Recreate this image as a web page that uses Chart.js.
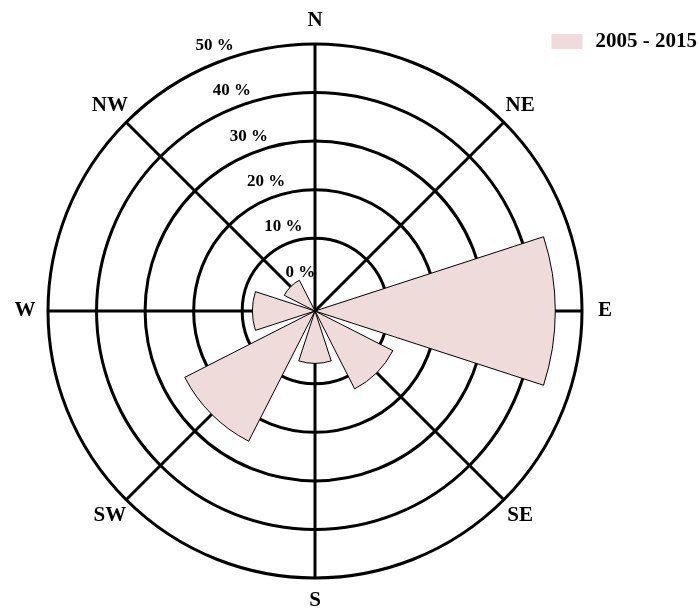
<!DOCTYPE html>
<html>
<head>
<meta charset="utf-8">
<script src="https://cdn.jsdelivr.net/npm/chart.js@4.4.1/dist/chart.umd.min.js"></script>
<style>
  html, body { margin: 0; padding: 0; background: #fff; }
</style>
</head>
<body>
<canvas id="windRose" width="700" height="612"></canvas>
<script>
// Wind directions and share of time (%) for each one
let directions = ['N', 'NE', 'E', 'SE', 'S', 'SW', 'W', 'NW'];
let frequency = [0, 0, 44.5, 13, 5.8, 25.1, 7.9, 2.1];
let ringTicks = [0, 10, 20, 30, 40, 50];
let seriesLabel = '2005 - 2015';

const petalColor = 'rgb(240, 219, 219)';
const serif = '"Liberation Serif", "Times New Roman", serif';

// Each petal covers part of its 45 degree sector, centred on the direction.
// The N petal is split in two halves so it sits around the top.
const petalAngle = 36;
const gapAngle = 45 - petalAngle;
let arcValues = [frequency[0]];
let arcAngles = [petalAngle / 2];
for (let i = 1; i < directions.length; i++) {
    arcValues.push(null, frequency[i]);
    arcAngles.push(gapAngle, petalAngle);
}
arcValues.push(null, frequency[0]);
arcAngles.push(gapAngle, petalAngle / 2);

const isEmpty = ctx => ctx.raw == null || ctx.raw <= 0;

// Direction names, percent labels and legend
const roseText = {
    id: 'roseText',
    afterDraw(chart) {
        const r = chart.scales.r;
        const ctx = chart.ctx;
        ctx.save();
        ctx.fillStyle = '#000';
        ctx.textAlign = 'center';
        ctx.textBaseline = 'middle';

        ctx.font = 'bold 21px ' + serif;
        directions.forEach((d, i) => {
            const p = r.getPointPosition(i, r.drawingArea + 23);
            ctx.fillText(d, p.x, p.y);
        });

        ctx.font = 'bold 17px ' + serif;
        const tilt = -20.7 * Math.PI / 180;
        ringTicks.forEach(v => {
            const d = r.getDistanceFromCenterForValue(v) + 17;
            ctx.fillText(v + ' %', r.xCenter + d * Math.sin(tilt), r.yCenter - d * Math.cos(tilt));
        });

        ctx.font = 'bold 21px ' + serif;
        ctx.textAlign = 'left';
        const tw = ctx.measureText(seriesLabel).width;
        const tx = chart.width - 3 - tw;
        ctx.fillStyle = petalColor;
        ctx.fillRect(tx - 44, 34, 31, 15);
        ctx.fillStyle = '#000';
        ctx.fillText(seriesLabel, tx, 42);
        ctx.restore();
    }
};

let data = {
    labels: directions,
    datasets: [{
        label: seriesLabel,
        data: arcValues,
        angle: ctx => arcAngles[ctx.dataIndex],
        backgroundColor: ctx => isEmpty(ctx) ? 'rgba(0,0,0,0)' : petalColor,
        borderColor: '#000',
        borderWidth: ctx => isEmpty(ctx) ? 0 : 1
    }]
};

const config = {
    type: 'polarArea',
    data: data,
    options: {
        responsive: false,
        devicePixelRatio: 1,
        animation: false,
        layout: {
            padding: { left: 48, right: 118, top: 44, bottom: 34 }
        },
        plugins: {
            legend: { display: false },
            tooltip: { enabled: false }
        },
        scales: {
            r: {
                min: -5,
                max: 50,
                startAngle: 0,
                afterBuildTicks: scale => {
                    scale.ticks = [-5].concat(ringTicks).map(v => ({ value: v }));
                },
                grid: {
                    circular: true,
                    lineWidth: 3,
                    color: ctx => (ctx.tick && ctx.tick.value > 0) ? '#000' : 'rgba(0,0,0,0)'
                },
                angleLines: { display: true, color: '#000', lineWidth: 3 },
                pointLabels: { display: false },
                ticks: { display: false }
            }
        }
    },
    plugins: [roseText]
};

const windRose = new Chart(document.getElementById('windRose').getContext('2d'), config);
</script>
</body>
</html>
